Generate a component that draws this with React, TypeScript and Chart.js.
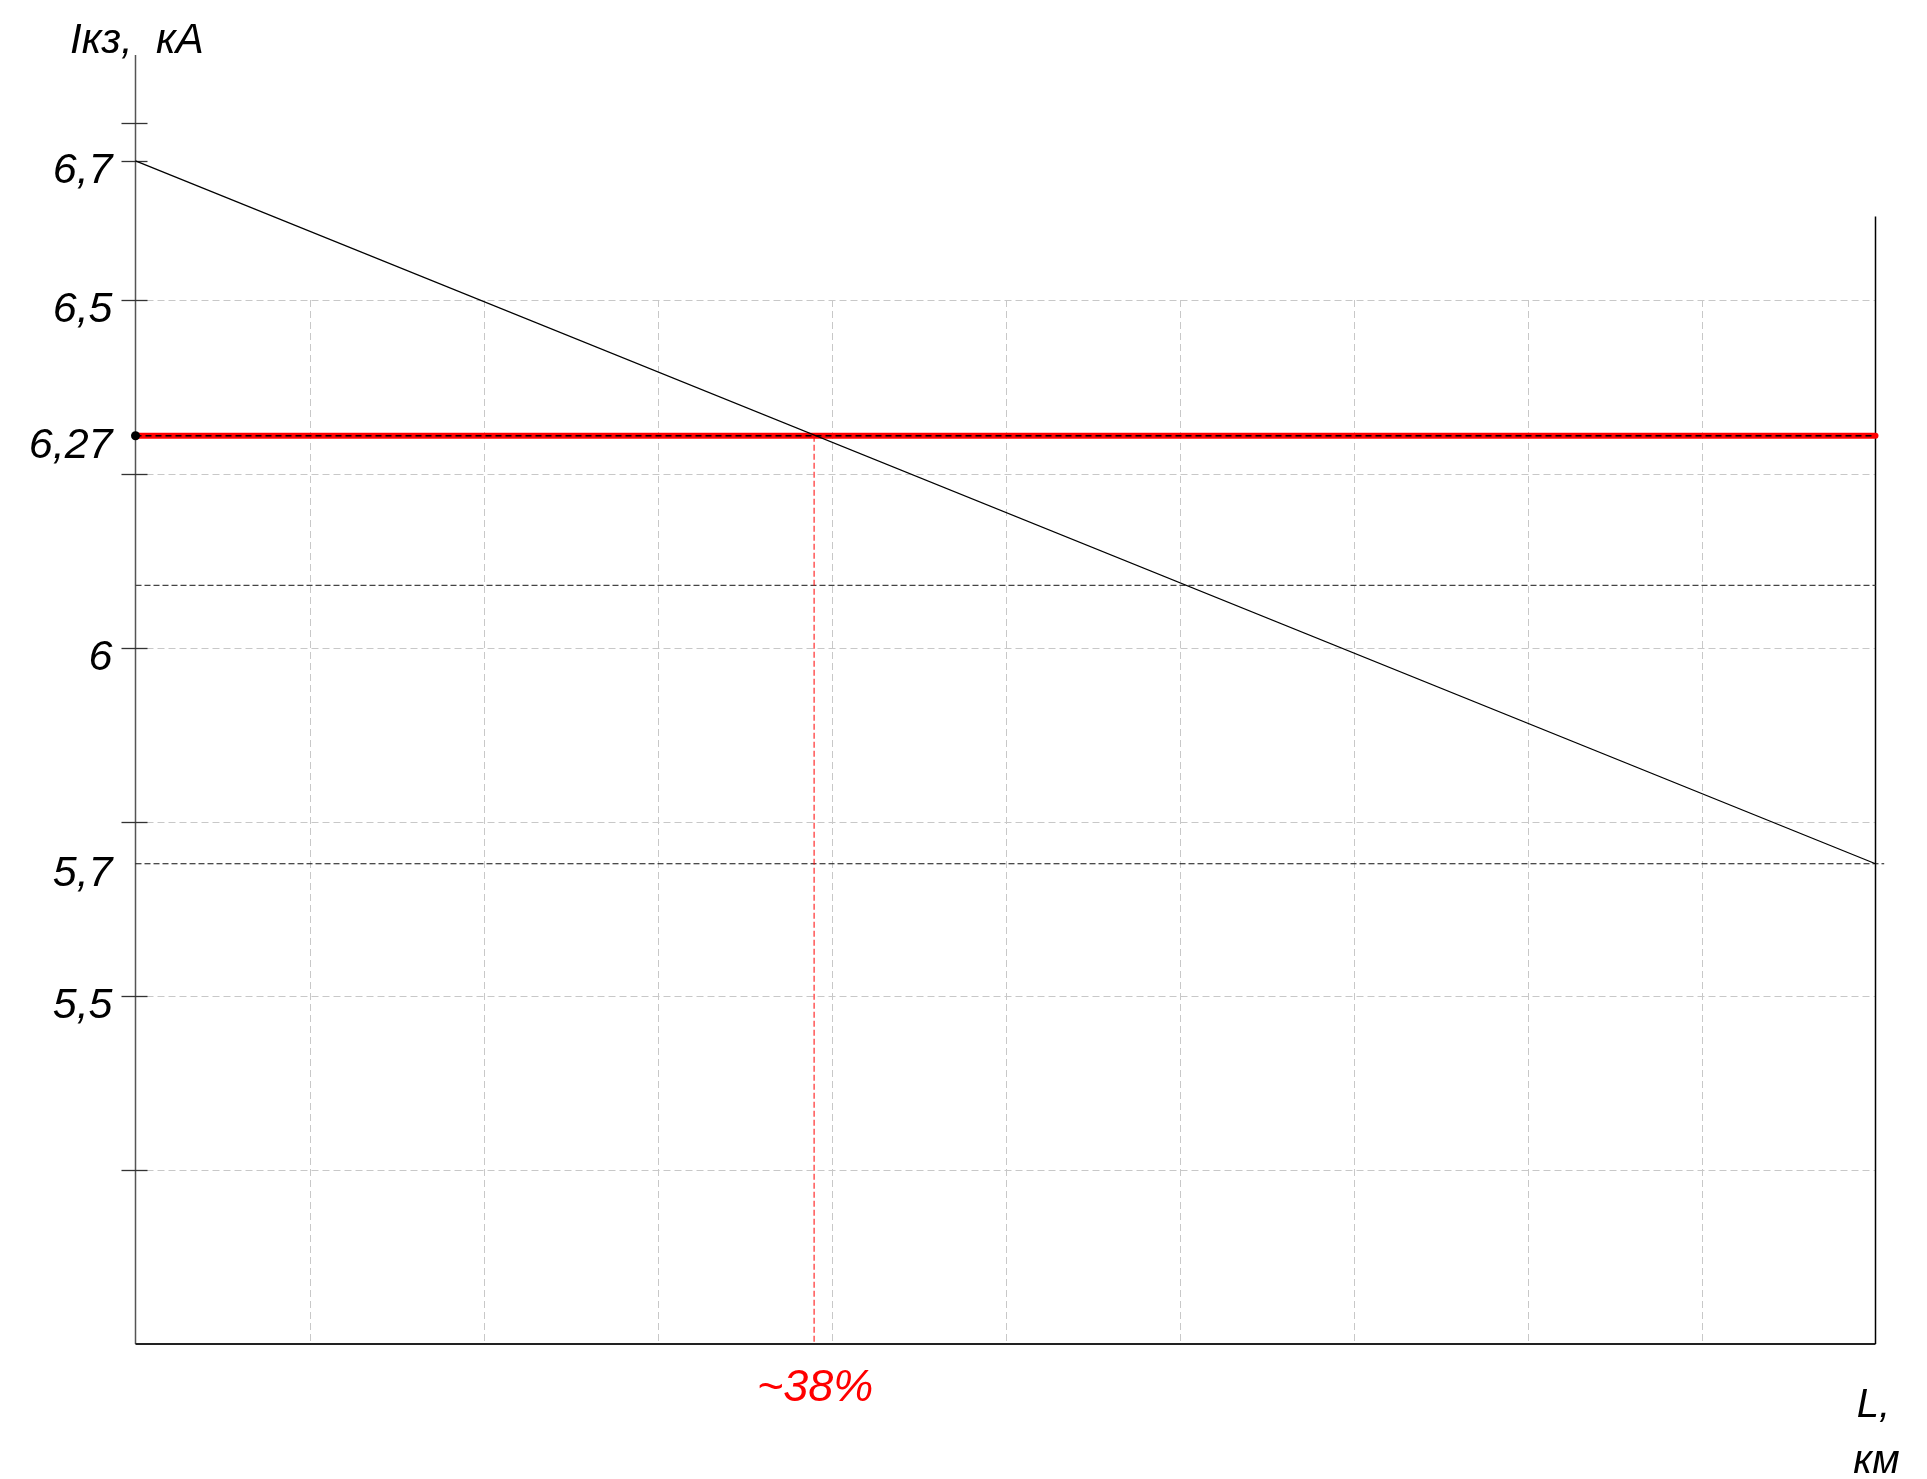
import React, { useEffect, useRef } from "react";
import { Chart, registerables } from "chart.js";

Chart.register(...registerables);

// ---- data ----
const distancePercent = [0, 100];
const currentKA = [6.7, 5.69];
const thresholdKA = 6.305; // drawn level of the 6,27 kA setting line
const thresholdExtent = [0, 100];
const crossingPercent = 39;
const refLevel1 = 6.09;
const refExtent1 = [0, 100];
const refLevel2 = 5.69;
const refExtent2 = [0, 100.5];
const yTickValues = [6.755, 6.7, 6.5, 6.25, 6.0, 5.75, 5.5, 5.25];
const yLabelValues = [6.7, 6.5, 6.305, 6.0, 5.69, 5.5];
const yLabelTexts = ["6,7", "6,5", "6,27", "6", "5,7", "5,5"];
const gridYValues = [6.5, 6.25, 6.0, 5.75, 5.5, 5.25];
const gridXValues = [10, 20, 30, 40, 50, 60, 70, 80, 90];
const gridTop = 6.5;
const yMin = 5.0;
const yMax = 6.852;
const xMin = 0;
const xMax = 100;
const rightBorderTop = 6.62;
const crossingLabel = "~38%";
const yTitle = "Iкз,  кА";
const xTitleLines = ["L,", "км"];

const FONT = "'Liberation Sans', 'DejaVu Sans', sans-serif";

const drawingPlugin = {
  id: "drawingPlugin",
  beforeDatasetsDraw(chart: any) {
    const ctx = chart.ctx;
    const xs = chart.scales.x;
    const ys = chart.scales.y;
    const x0 = xs.getPixelForValue(xMin);
    const x1 = xs.getPixelForValue(xMax);
    const yB = ys.getPixelForValue(yMin);
    const yT = ys.getPixelForValue(gridTop);
    ctx.save();
    // light dashed grid
    ctx.strokeStyle = "#c8c8c8";
    ctx.lineWidth = 1;
    ctx.setLineDash([7, 4]);
    gridYValues.forEach((v) => {
      const y = Math.round(ys.getPixelForValue(v)) + 0.5;
      ctx.beginPath();
      ctx.moveTo(x0, y);
      ctx.lineTo(x1, y);
      ctx.stroke();
    });
    gridXValues.forEach((v) => {
      const x = Math.round(xs.getPixelForValue(v)) + 0.5;
      ctx.beginPath();
      ctx.moveTo(x, yT);
      ctx.lineTo(x, yB);
      ctx.stroke();
    });
    ctx.setLineDash([]);
    // left axis
    ctx.strokeStyle = "#555";
    ctx.lineWidth = 1.5;
    ctx.beginPath();
    ctx.moveTo(x0, chart.chartArea.top);
    ctx.lineTo(x0, yB);
    ctx.stroke();
    // bottom axis
    ctx.strokeStyle = "#222";
    ctx.lineWidth = 2;
    ctx.beginPath();
    ctx.moveTo(x0, yB);
    ctx.lineTo(x1, yB);
    ctx.stroke();
    // right border
    ctx.strokeStyle = "#000";
    ctx.lineWidth = 1.5;
    ctx.beginPath();
    ctx.moveTo(x1, ys.getPixelForValue(rightBorderTop));
    ctx.lineTo(x1, yB);
    ctx.stroke();
    // tick marks
    ctx.strokeStyle = "#333";
    ctx.lineWidth = 1.3;
    yTickValues.forEach((v) => {
      const y = Math.round(ys.getPixelForValue(v)) + 0.5;
      ctx.beginPath();
      ctx.moveTo(x0 - 14, y);
      ctx.lineTo(x0 + 12, y);
      ctx.stroke();
    });
    ctx.restore();
  },
  afterDraw(chart: any) {
    const ctx = chart.ctx;
    const xs = chart.scales.x;
    const ys = chart.scales.y;
    const x0 = xs.getPixelForValue(xMin);
    const x1 = xs.getPixelForValue(xMax);
    const yB = ys.getPixelForValue(yMin);
    ctx.save();
    ctx.fillStyle = "#000";
    ctx.font = `italic 43px ${FONT}`;
    ctx.textAlign = "right";
    ctx.textBaseline = "middle";
    yLabelValues.forEach((v, i) => {
      ctx.fillText(yLabelTexts[i], x0 - 23, ys.getPixelForValue(v) + 10);
    });
    // y title
    ctx.font = `italic 42px ${FONT}`;
    ctx.textAlign = "left";
    ctx.textBaseline = "alphabetic";
    ctx.fillText(yTitle, 70, 53);
    // x title
    ctx.font = `italic 40px ${FONT}`;
    ctx.textAlign = "center";
    ctx.fillText(xTitleLines[0], x1 - 2, yB + 73);
    ctx.fillText(xTitleLines[1], x1 + 1, yB + 129);
    // crossing label
    ctx.fillStyle = "#ff0000";
    ctx.font = `italic 45px ${FONT}`;
    ctx.textAlign = "center";
    ctx.textBaseline = "middle";
    ctx.fillText(crossingLabel, xs.getPixelForValue(crossingPercent) + 1, yB + 44);
    ctx.restore();
  },
};

export default function App() {
  const canvasRef = useRef<HTMLCanvasElement | null>(null);

  useEffect(() => {
    const canvas = canvasRef.current;
    if (!canvas) return;
    const pts = (xsArr: number[], ysArr: number[]) =>
      xsArr.map((x, i) => ({ x, y: ysArr[i] }));
    const chart = new Chart(canvas, {
      type: "line",
      data: {
        datasets: [
          {
            label: "dot",
            data: [{ x: thresholdExtent[0], y: thresholdKA }],
            showLine: false,
            pointRadius: 4.5,
            pointBackgroundColor: "#000",
            pointBorderWidth: 0,
            order: 0,
            clip: false,
          } as any,
          {
            label: "Iкз(L)",
            data: pts(distancePercent, currentKA),
            borderColor: "#000",
            borderWidth: 1.3,
            pointRadius: 0,
            order: 1,
            clip: false,
          },
          {
            label: "threshold dash",
            data: pts(thresholdExtent, [thresholdKA, thresholdKA]),
            borderColor: "#000",
            borderWidth: 1.4,
            borderDash: [6, 4],
            pointRadius: 0,
            order: 2,
            clip: false,
          },
          {
            label: "threshold",
            data: pts(thresholdExtent, [thresholdKA, thresholdKA]),
            borderColor: "#ff0000",
            borderWidth: 6,
            borderCapStyle: "round",
            pointRadius: 0,
            order: 3,
            clip: false,
          },
          {
            label: "crossing",
            data: [
              { x: crossingPercent, y: thresholdKA },
              { x: crossingPercent, y: yMin },
            ],
            borderColor: "rgba(255,0,0,0.9)",
            borderWidth: 1.1,
            borderDash: [6, 3],
            pointRadius: 0,
            order: 4,
            clip: false,
          },
          {
            label: "ref1",
            data: pts(refExtent1, [refLevel1, refLevel1]),
            borderColor: "#444",
            borderWidth: 1.2,
            borderDash: [6, 3],
            pointRadius: 0,
            order: 5,
            clip: false,
          },
          {
            label: "ref2",
            data: pts(refExtent2, [refLevel2, refLevel2]),
            borderColor: "#111",
            borderWidth: 1.2,
            borderDash: [6, 3],
            pointRadius: 0,
            order: 5,
            clip: false,
          },
        ],
      },
      options: {
        responsive: false,
        animation: false,
        events: [],
        layout: {
          padding: { left: 135.5, right: 51.5, top: 55, bottom: 135 },
        },
        plugins: {
          legend: { display: false },
          tooltip: { enabled: false },
          title: { display: false },
        },
        scales: {
          x: { type: "linear", min: xMin, max: xMax, display: false },
          y: { type: "linear", min: yMin, max: yMax, display: false },
        },
      },
      plugins: [drawingPlugin],
    });
    return () => chart.destroy();
  }, []);

  return (
    <div style={{ position: "absolute", left: 0, top: 0, width: 1927, height: 1479, background: "#fff" }}>
      <canvas ref={canvasRef} width={1927} height={1479} style={{ display: "block" }} />
    </div>
  );
}
